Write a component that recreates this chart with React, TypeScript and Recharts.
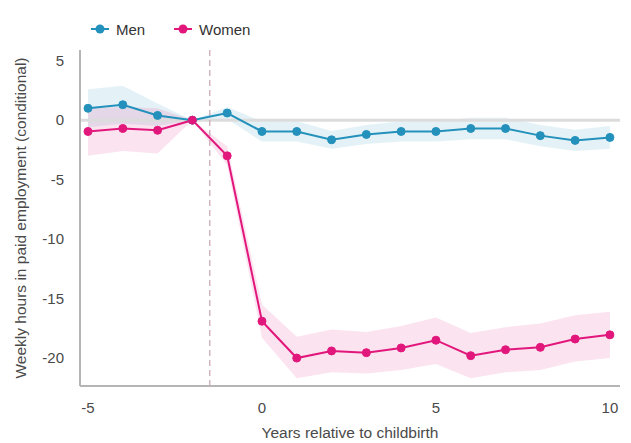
import {
  Area,
  ComposedChart,
  Line,
  ReferenceLine,
  XAxis,
  YAxis,
} from "recharts";

const years = [-5, -4, -3, -2, -1, 0, 1, 2, 3, 4, 5, 6, 7, 8, 9, 10];

const men = [1.0, 1.3, 0.4, 0, 0.6, -0.95, -0.95, -1.65, -1.2, -0.95, -0.95, -0.7, -0.7, -1.3, -1.7, -1.45];
const menLow = [-0.6, -0.3, -0.5, 0, 0.1, -1.8, -1.8, -2.4, -2.0, -1.8, -1.8, -1.6, -1.6, -2.2, -2.6, -2.4];
const menHigh = [2.6, 2.9, 1.4, 0, 1.1, -0.1, -0.1, -0.9, -0.4, -0.1, -0.1, 0.2, 0.2, -0.4, -0.8, -0.5];

const women = [-0.95, -0.7, -0.85, 0, -3.0, -16.9, -20.0, -19.4, -19.55, -19.15, -18.5, -19.8, -19.3, -19.1, -18.4, -18.05];
const womenLow = [-3.0, -2.6, -2.8, 0, -3.8, -18.3, -21.7, -21.2, -21.3, -21.0, -20.5, -21.7, -21.2, -21.0, -20.3, -20.0];
const womenHigh = [1.0, 1.1, 1.0, 0, -2.2, -15.5, -18.2, -17.6, -17.8, -17.3, -16.6, -17.9, -17.4, -17.1, -16.4, -16.1];

const xTicks = [-5, 0, 5, 10];
const yTicks = [-20, -15, -10, -5, 0, 5];

const MEN = "#2391bb";
const WOMEN = "#e2177c";
const TEXT = "#4a4a4a";
const FONT = "'Liberation Sans', Arial, sans-serif";

const data = years.map((y, i) => ({
  year: y,
  men: men[i],
  women: women[i],
  menBand: [menLow[i], menHigh[i]],
  womenBand: [womenLow[i], womenHigh[i]],
}));

const LegendItem = ({ color, label, left }: { color: string; label: string; left: number }) => (
  <div style={{ position: "absolute", left, top: 20, display: "flex", alignItems: "center" }}>
    <svg width={18} height={18}>
      <line x1={0} y1={9} x2={18} y2={9} stroke={color} strokeWidth={2} />
      <circle cx={9} cy={9} r={4.5} fill={color} />
    </svg>
    <span style={{ marginLeft: 7, fontSize: 15, color: "#333" }}>{label}</span>
  </div>
);

export default function App() {
  return (
    <div style={{ position: "absolute", left: 0, top: 0, width: 631, height: 443, fontFamily: FONT }}>
      <LegendItem color={MEN} label="Men" left={91} />
      <LegendItem color={WOMEN} label="Women" left={174} />
      <ComposedChart width={631} height={443} data={data} margin={{ top: 50, right: 11, bottom: 0, left: 0 }}>
        <XAxis
          dataKey="year"
          type="number"
          domain={[-5.23, 10.29]}
          ticks={xTicks}
          height={57}
          tickLine={false}
          axisLine={{ stroke: "#b5b5b5", strokeWidth: 2 }}
          tick={{ fill: TEXT, fontSize: 15, fontFamily: FONT }}
          tickMargin={10}
          label={{ value: "Years relative to childbirth", position: "insideBottom", offset: 5, fill: TEXT, fontSize: 15.5, fontFamily: FONT }}
        />
        <YAxis
          type="number"
          domain={[-22.35, 5.9]}
          ticks={yTicks}
          width={80}
          tickLine={false}
          axisLine={{ stroke: "#b5b5b5", strokeWidth: 2 }}
          tick={{ fill: TEXT, fontSize: 15, fontFamily: FONT }}
          tickMargin={10}
          label={{
            value: "Weekly hours in paid employment (conditional)",
            angle: -90,
            position: "insideLeft",
            offset: 20,
            style: { textAnchor: "middle" },
            fill: TEXT,
            fontSize: 15.5,
            fontFamily: FONT,
          }}
        />
        <ReferenceLine y={0} stroke="#dcdcdc" strokeWidth={3} />
        <ReferenceLine x={-1.5} stroke="#c9a3b3" strokeDasharray="6 4" strokeWidth={1.2} />
        <Area dataKey="menBand" stroke="none" fill={MEN} fillOpacity={0.12} isAnimationActive={false} />
        <Area dataKey="womenBand" stroke="none" fill={WOMEN} fillOpacity={0.12} isAnimationActive={false} />
        <Line
          dataKey="men"
          stroke={MEN}
          strokeWidth={2}
          dot={{ r: 4, fill: MEN, stroke: MEN, strokeWidth: 1 }}
          isAnimationActive={false}
        />
        <Line
          dataKey="women"
          stroke={WOMEN}
          strokeWidth={2}
          dot={{ r: 4, fill: WOMEN, stroke: WOMEN, strokeWidth: 1 }}
          isAnimationActive={false}
        />
      </ComposedChart>
    </div>
  );
}
